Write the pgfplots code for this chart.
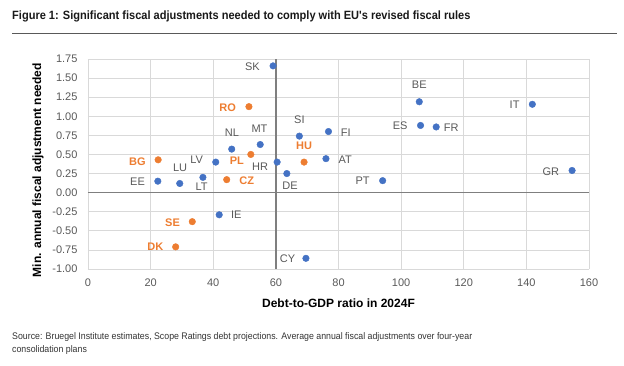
\documentclass[border=0pt]{standalone}
\usepackage{pgfplots}
\pgfplotsset{compat=1.18}
\usepackage{fontspec}
\setmainfont{Liberation Sans}
\newfontfamily\condfont[FakeStretch=0.92]{Liberation Sans}
\newfontfamily\notefont[FakeStretch=0.92]{Liberation Sans}
\definecolor{myblue}{HTML}{4472C4}
\definecolor{myorange}{HTML}{ED7D31}
\definecolor{labgray}{HTML}{595959}
\definecolor{gridgray}{HTML}{D9D9D9}
\definecolor{axgray}{HTML}{7F7F7F}

\pgfplotstableread{
x y lab dx dy
59.1 1.66 SK -20.7 -0.7
45.9 0.57 NL 0.3 16
55.0 0.63 MT -0.7 16
67.5 0.74 SI 0 16
76.8 0.80 FI 17.3 -0.7
40.8 0.40 LV -19 2.3
60.4 0.40 HR -17 -4.3
63.5 0.25 DE 3.3 -12
76.0 0.445 AT 19.3 -0.7
22.3 0.15 EE -20.3 -1
29.3 0.12 LU 0.3 15.7
36.7 0.20 LT -1.3 -9.7
105.8 1.19 BE 0 16.7
141.9 1.157 IT -17.7 -0.7
106.2 0.88 ES -20.3 0
111.2 0.86 FR 15 -0.3
154.6 0.29 GR -21.3 -1
94.1 0.157 PT -20 -0.3
41.9 -0.29 IE 17 -0.3
69.6 -0.86 CY -18.3 0
}\bluedata

\pgfplotstableread{
x y lab dx dy
51.4 1.126 RO -21.3 -0.7
69.0 0.40 HU 0 16
52.0 0.50 PL -14 -6.7
22.4 0.43 BG -20.7 -2
44.3 0.17 CZ 20 -1
33.3 -0.38 SE -19.7 -0.7
28.0 -0.71 DK -20.3 -0.3
}\orangedata

\begin{document}
\begin{tikzpicture}[x=1pt,y=1pt]
\path[use as bounding box] (0,0) rectangle (624,365);
\node[anchor=west, inner sep=0, font=\condfont\bfseries\fontsize{12}{14}\selectfont, text=black!90] at (12,349) {Figure 1: Significant fiscal adjustments needed to comply with EU's revised fiscal rules};
\draw[line width=1.2pt, black!65] (12,331.5) -- (617,331.5);
\begin{axis}[
  at={(88pt,96pt)}, anchor=south west,
  scale only axis, width=501pt, height=210pt,
  xmin=0, xmax=160, ymin=-1, ymax=1.75,
  xtick={0,20,40,60,80,100,120,140,160},
  ytick={-1,-0.75,-0.5,-0.25,0,0.25,0.5,0.75,1,1.25,1.5,1.75},
  grid=major,
  major grid style={gridgray, line width=0.8pt},
  axis line style={draw=none},
  major tick length=0pt,
  tick label style={font=\fontsize{11}{13}\selectfont, text=labgray},
  xticklabel style={yshift=-6pt},
  yticklabel style={xshift=-7pt, /pgf/number format/.cd, fixed, fixed zerofill, precision=2},
  /pgf/number format/assume math mode=true,
  extra x ticks={60}, extra x tick labels={},
  extra y ticks={0}, extra y tick labels={},
  extra tick style={major grid style={axgray, line width=1.3pt}},
  xlabel={Debt-to-GDP ratio in 2024F},
  ylabel={Min. annual fiscal adjustment needed},
  every axis x label/.style={at={(axis description cs:0.5,0)}, anchor=center, yshift=-34pt, font=\bfseries\fontsize{12}{14}\selectfont},
  every axis y label/.style={at={(axis description cs:-0.0998,0.471)}, rotate=90, anchor=center, font=\bfseries\fontsize{12}{14}\selectfont},
  point meta=explicit symbolic,
  visualization depends on={\thisrow{dx} \as \mydx},
  visualization depends on={\thisrow{dy} \as \mydy},
  nodes near coords,
  nodes near coords style={anchor=center, inner sep=0pt, xshift=\mydx pt, yshift=\mydy pt, font=\fontsize{11}{13}\selectfont},
  clip=false,
]
\addplot[only marks, mark=*, mark size=3.3pt, myblue, nodes near coords style={text=labgray}] table[x=x, y=y, meta=lab] {\bluedata};
\addplot[only marks, mark=*, mark size=3.3pt, myorange, nodes near coords style={text=myorange, font=\bfseries\fontsize{11}{13}\selectfont}] table[x=x, y=y, meta=lab] {\orangedata};
\end{axis}
\node[anchor=west, inner sep=0, font=\notefont\fontsize{9.55}{13}\selectfont, text=black!80] at (12,365-337.5) {Source: Bruegel Institute estimates, Scope Ratings debt projections. Average annual fiscal adjustments over four-year};
\node[anchor=west, inner sep=0, font=\notefont\fontsize{9.55}{13}\selectfont, text=black!80] at (12,365-350.5) {consolidation plans};
\end{tikzpicture}
\end{document}
